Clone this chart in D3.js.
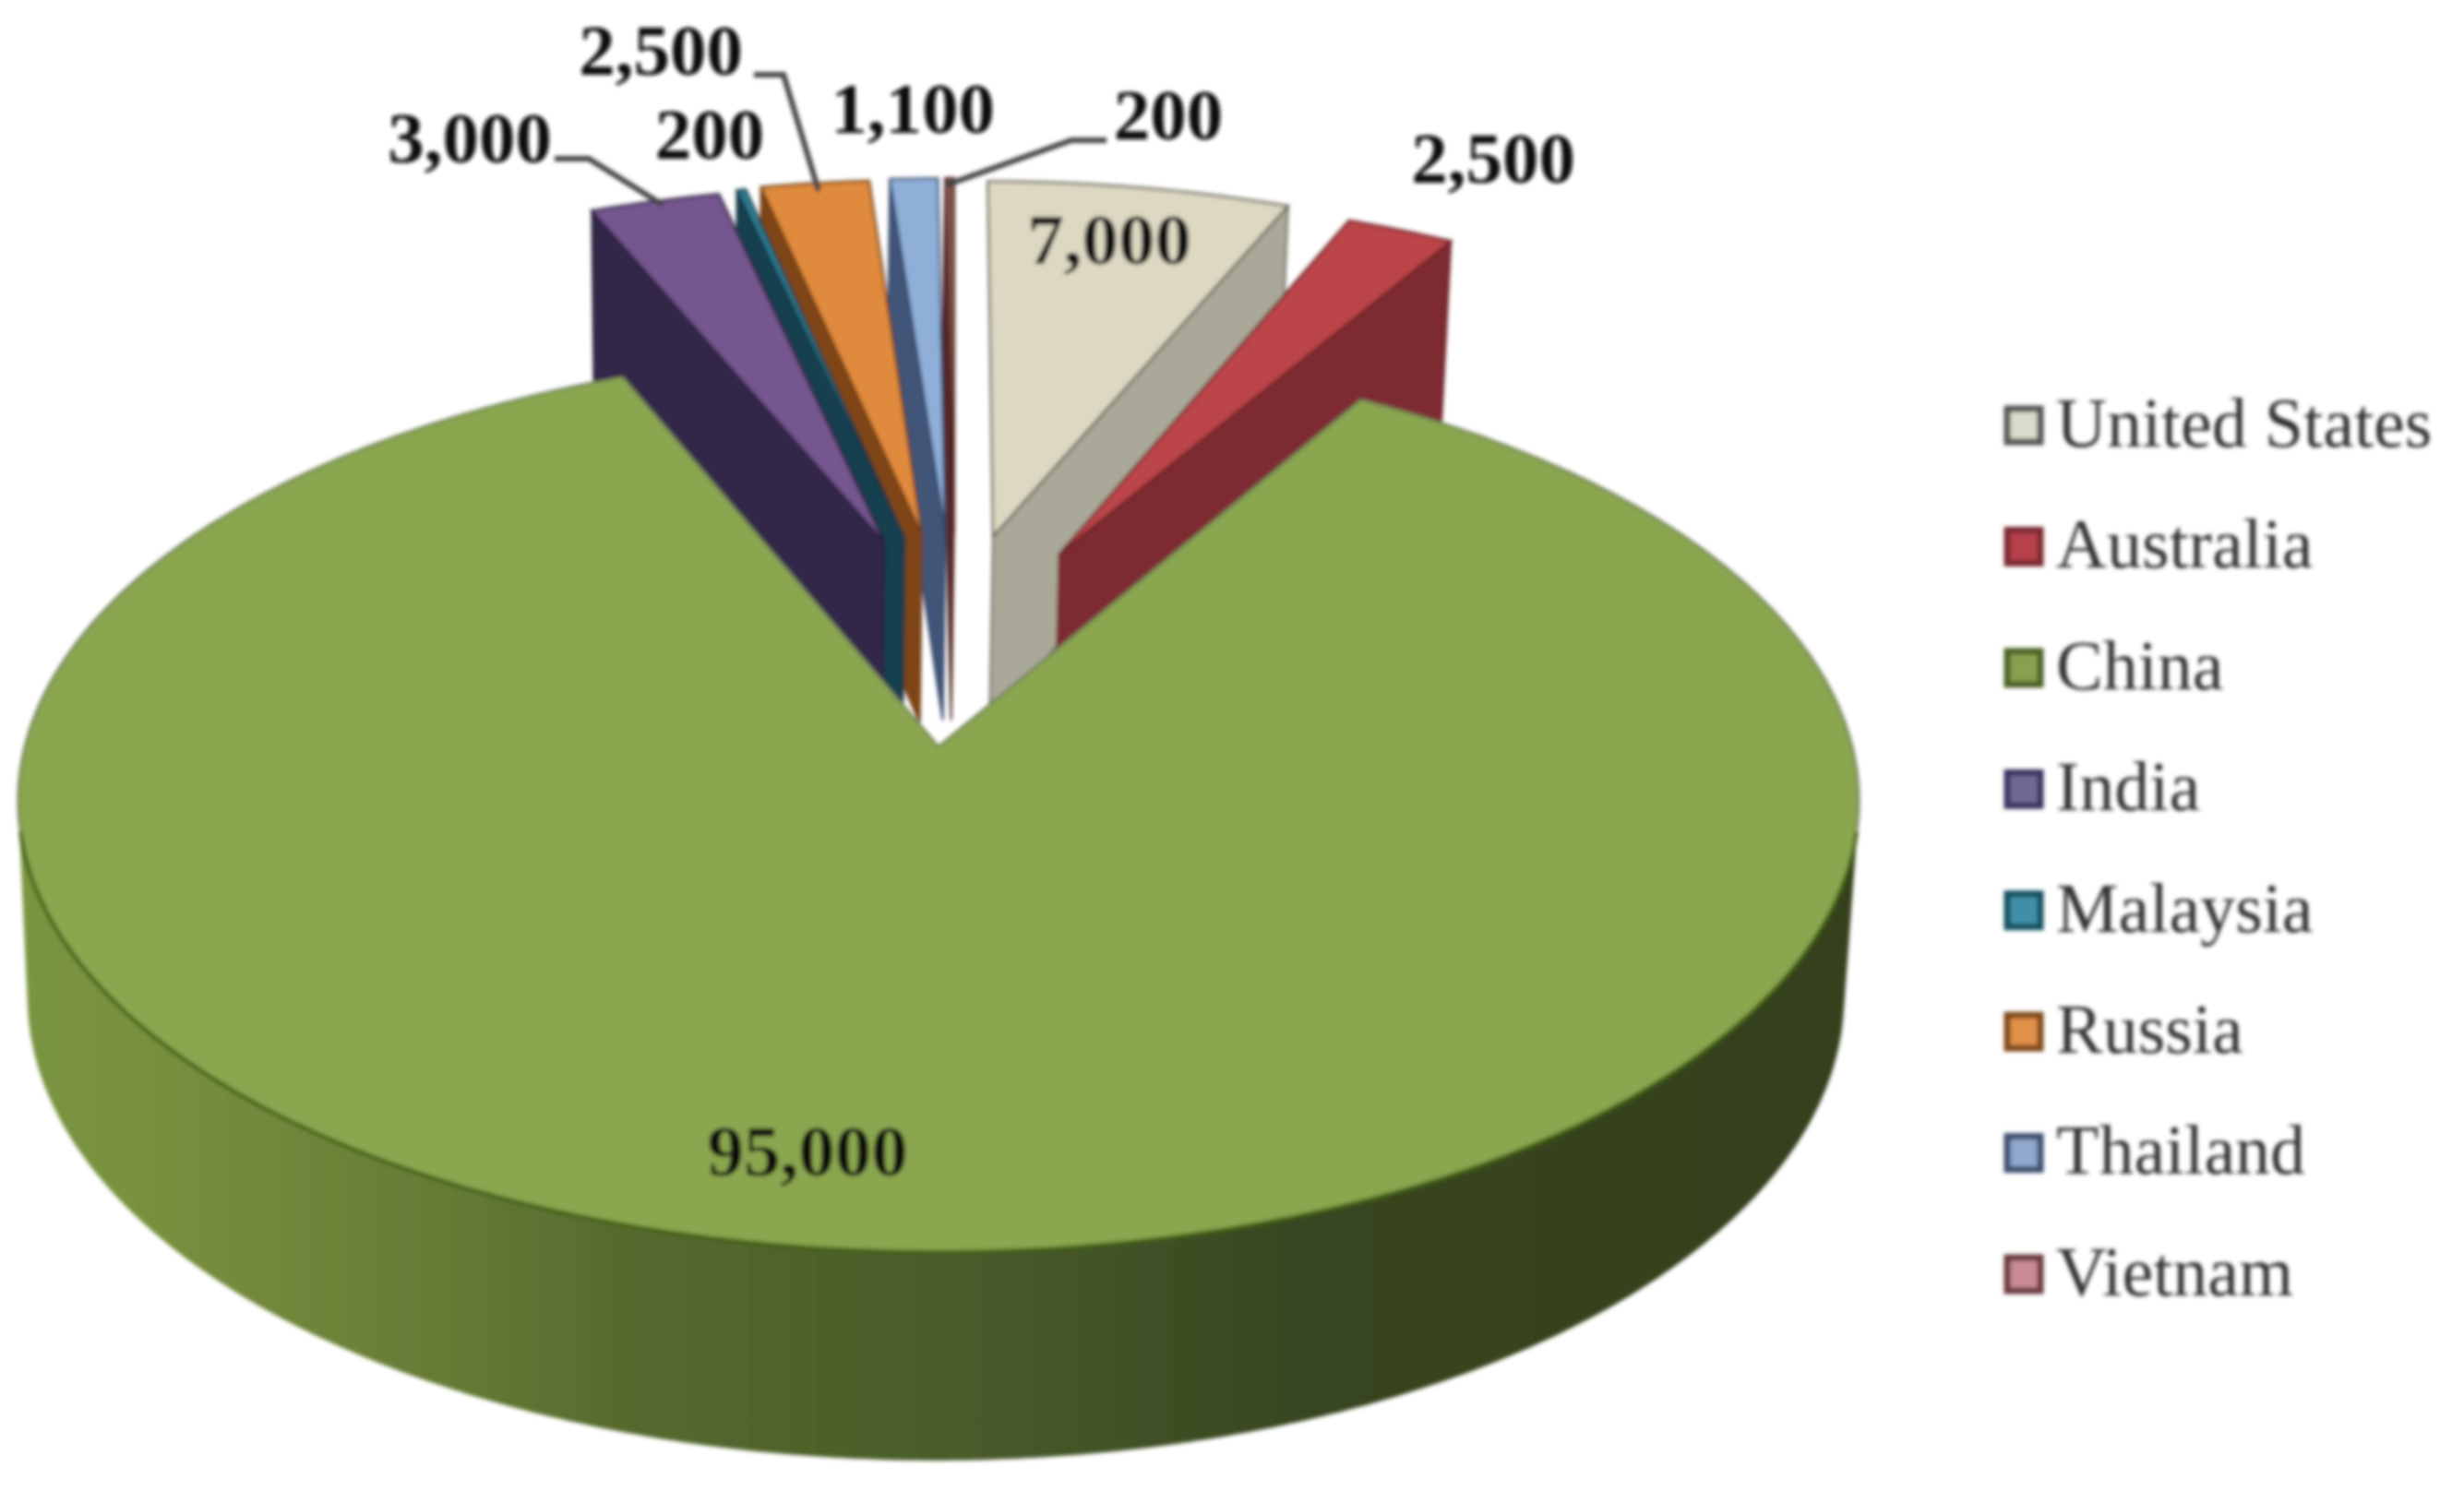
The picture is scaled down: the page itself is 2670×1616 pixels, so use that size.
<!DOCTYPE html>
<html>
<head>
<meta charset="utf-8">
<script src="https://cdn.jsdelivr.net/npm/d3@7"></script>
<style>
  html, body { margin: 0; padding: 0; background: #fff; }
  svg { display: block; }
</style>
</head>
<body>
<svg></svg>
<script>
let categories = ['United States', 'Australia', 'China', 'India', 'Malaysia', 'Russia', 'Thailand', 'Vietnam']
let values = [7000, 2500, 95000, 3000, 200, 2500, 1100, 200]

let topColors = ['#ddd8c2', '#bb4548', '#8aa650', '#75578f', '#2f7f94', '#e08a3c', '#8fafd9', '#8a5650']
let wallColors = ['#aaa898', '#7d2c30', '#4e6128', '#33264a', '#17404f', '#7f4417', '#3f5478', '#5a2825']
let edgeColors = ['#5c5c50', '#6a2024', '#4a6a22', '#2a1f3e', '#123844', '#6e3c12', '#36486a', '#4a201e']
let swatchFill = ['#dcdccc', '#b8414c', '#8aa050', '#6f6a92', '#3f8fa8', '#e09048', '#8fa8cc', '#c98a98']
let swatchEdge = ['#555', '#7a2a30', '#4e6128', '#3a3560', '#17505f', '#7f4a1a', '#3d4f70', '#6b3b3f']

// label anchor in page px, leader is optional
let labelLayout = [
    { x: 1202, y: 260 },
    { x: 1618, y: 172 },
    { x: 875, y: 1248 },
    { x: 509, y: 150, leader: [[601, 172], [638, 172], [718, 222]] },
    { x: 769, y: 146 },
    { x: 716, y: 55, leader: [[817, 81], [849, 81], [887, 207]] },
    { x: 989, y: 118 },
    { x: 1266, y: 125, leader: [[1199, 152], [1161, 152], [1024, 201]] }
]

let width = 2670
let height = 1616

// perspective model of the pie plane
let cx = 1017
let cy = 809
let radiusX = 990
let radiusY = 482
let tilt = -0.1205
let depth = 210
let explode = 0.51
let explodeXFactor = 0.59

let svg = d3.select('svg').attr('width', width).attr('height', height)
svg.append('rect').attr('width', width).attr('height', height).attr('fill', '#fff')

let defs = svg.append('defs')
defs.append('filter').attr('id', 'soft')
    .attr('x', '-5%').attr('y', '-5%').attr('width', '110%').attr('height', '110%')
    .append('feGaussianBlur').attr('stdDeviation', 2)

let sideGradient = defs.append('linearGradient')
    .attr('id', 'chinaSide')
    .attr('gradientUnits', 'userSpaceOnUse')
    .attr('x1', 20).attr('x2', 2013).attr('y1', 0).attr('y2', 0)
let sideStops = [[0, '#7a9440'], [0.06, '#78923e'], [0.13, '#72883c'], [0.24, '#647a35'], [0.33, '#566a2e'], [0.54, '#47592a'], [0.7, '#384620'], [1, '#35401e']]
sideStops.forEach((s) => {
    sideGradient.append('stop').attr('offset', s[0]).attr('stop-color', s[1])
})

let chart = svg.append('g').attr('filter', 'url(#soft)')

let pie = d3.pie().sort(null)
let slices = pie(values).map((d, i) => {
    let mid = (d.startAngle + d.endAngle) / 2
    let exploded = categories[i] !== 'China'
    // left group sits a bit closer in than the plain model says
    let shift = mid > Math.PI ? 18 + 30 * (2 * Math.PI - mid) : 4
    return {
        index: i,
        start: d.startAngle,
        end: d.endAngle,
        ox: exploded ? explode * Math.sin(mid) * explodeXFactor : 0,
        oy: exploded ? -explode * Math.cos(mid) : 0,
        shift: exploded ? shift : 0
    }
})

let topPoint = (s, r, a) => {
    let u = s.ox + r * Math.sin(a)
    let v = s.oy - r * Math.cos(a)
    let w = 1 + tilt * v
    return [cx + s.shift + radiusX * u / w, cy + radiusY * v / w]
}

let bottomPoint = (s, r, a) => {
    let u = s.ox + r * Math.sin(a)
    let v = s.oy - r * Math.cos(a)
    let w = 1 + tilt * v
    return [cx - 3 + s.shift + 0.987 * radiusX * u / w, cy + depth + 1.029 * radiusY * v / w]
}

let rimAngles = (a0, a1) => {
    let n = Math.max(2, Math.ceil((a1 - a0) / 0.01))
    let scale = d3.scaleLinear().domain([0, n]).range([a0, a1])
    return d3.range(n + 1).map(scale)
}

let line = d3.line()
let closed = d3.line().curve(d3.curveLinearClosed)

let drawSlice = (s) => {
    let i = s.index
    let mid = (s.start + s.end) / 2
    let wallAngle = mid > Math.PI ? s.start : s.end
    let wall = [
        topPoint(s, 0, 0), topPoint(s, 1, wallAngle),
        bottomPoint(s, 1, wallAngle), bottomPoint(s, 0, 0)
    ]
    chart.append('path')
        .attr('d', closed(wall))
        .attr('fill', wallColors[i])
        .attr('stroke', edgeColors[i])
        .attr('stroke-width', 2)
    let face = [topPoint(s, 0, 0)].concat(rimAngles(s.start, s.end).map((a) => topPoint(s, 1, a)))
    chart.append('path')
        .attr('d', closed(face))
        .attr('fill', topColors[i])
        .attr('stroke', edgeColors[i])
        .attr('stroke-width', 2.5)
}

// centre outwards on the left, then the two right slices
let drawOrder = [7, 6, 5, 4, 3, 0, 1]
drawOrder.forEach((i) => drawSlice(slices[i]))

// china side: hull of both rims, front half only so the notch stays open
let china = slices[2]
let band = rimAngles(Math.PI * 0.53, Math.PI * 1.47)
let hull = d3.polygonHull(band.map((a) => topPoint(china, 1, a)).concat(band.map((a) => bottomPoint(china, 1, a))))
chart.append('path')
    .attr('d', closed(hull))
    .attr('fill', 'url(#chinaSide)')

let chinaFace = [topPoint(china, 0, 0)].concat(rimAngles(china.start, china.end).map((a) => topPoint(china, 1, a)))
chart.append('path')
    .attr('d', closed(chinaFace))
    .attr('fill', topColors[2])
    .attr('stroke', '#6f7f58')
    .attr('stroke-width', 2.5)

// the front rim is a darker green
chart.append('path')
    .attr('d', line(rimAngles(Math.PI * 0.56, Math.PI * 1.44).map((a) => topPoint(china, 1, a))))
    .attr('fill', 'none')
    .attr('stroke', '#3f5f10')
    .attr('stroke-width', 4)

// leaders
labelLayout.forEach((l) => {
    if (l.leader) {
        chart.append('path')
            .attr('d', line(l.leader))
            .attr('fill', 'none')
            .attr('stroke', '#444')
            .attr('stroke-width', 6)
    }
})

// value labels
let fmt = d3.format(',')
chart.selectAll('text.value')
    .data(values)
    .enter()
    .append('text')
    .attr('class', 'value')
    .attr('x', (d, i) => labelLayout[i].x)
    .attr('y', (d, i) => labelLayout[i].y)
    .attr('dy', '0.33em')
    .attr('text-anchor', 'middle')
    .attr('font-family', '"Liberation Serif", serif')
    .attr('font-weight', 'bold')
    .attr('font-size', 79)
    .attr('fill', '#111')
    .text((d) => fmt(d))

// legend
let legendY = d3.scalePoint().domain(categories).range([461, 1381])
let legend = chart.selectAll('g.legend')
    .data(categories)
    .enter()
    .append('g')
    .attr('class', 'legend')
    .attr('transform', (d) => 'translate(0,' + legendY(d) + ')')

legend.append('rect')
    .attr('x', 2175)
    .attr('y', -18)
    .attr('width', 36)
    .attr('height', 36)
    .attr('fill', (d, i) => swatchFill[i])
    .attr('stroke', (d, i) => swatchEdge[i])
    .attr('stroke-width', 7)

legend.append('text')
    .attr('x', 2228)
    .attr('y', 0)
    .attr('dy', '0.3em')
    .attr('font-family', '"Liberation Serif", serif')
    .attr('font-size', 76)
    .attr('fill', '#333')
    .text((d) => d)
</script>
</body>
</html>
